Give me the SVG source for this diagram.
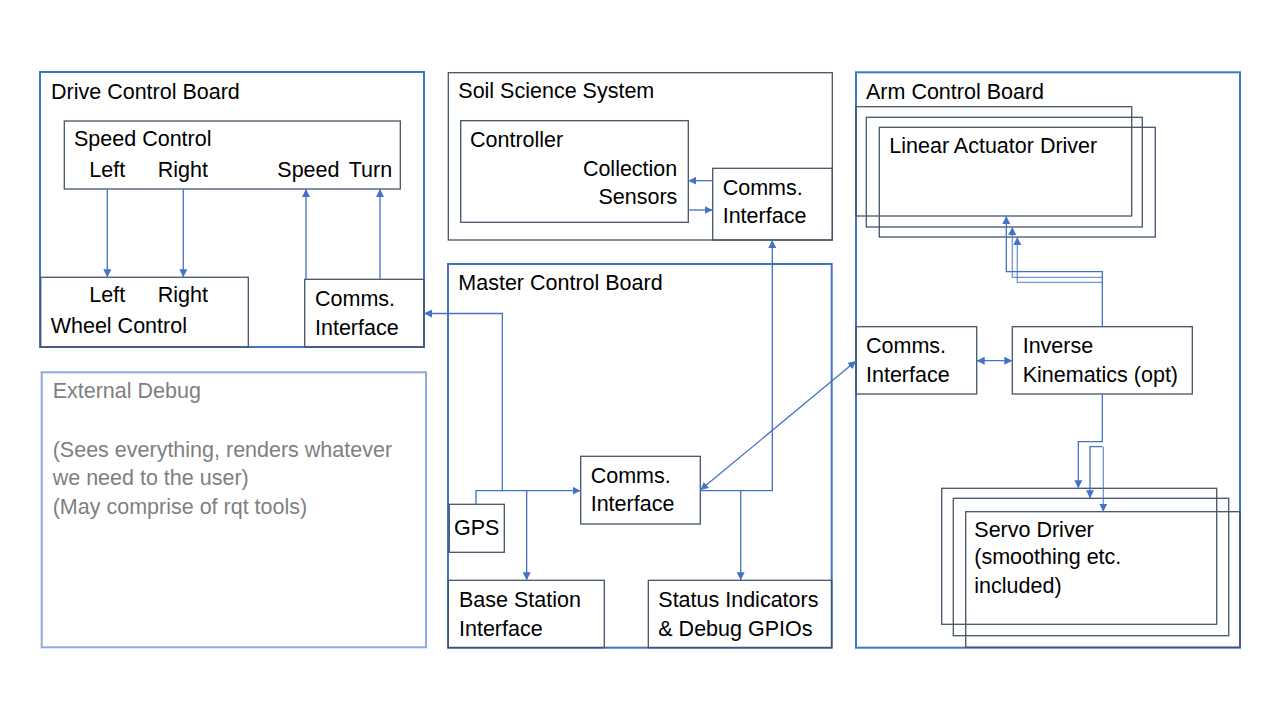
<svg xmlns="http://www.w3.org/2000/svg" width="1280" height="720" viewBox="0 0 1280 720">
<defs>
<style>
text{font-family:"Liberation Sans",Arial,sans-serif;font-size:21.5px;fill:#000}
.board{fill:none;stroke:#4472C4;stroke-width:2}
.box{fill:none;stroke:#44546A;stroke-width:1.3}
.dbg{fill:none;stroke:#8FAADC;stroke-width:2}
.gray{fill:#7F7F7F}
.c{fill:none;stroke:#4472C4;stroke-width:1.3}
.c2{fill:none;stroke:#4472C4;stroke-width:1.3;stroke-opacity:0.75}
.e{text-anchor:end}
</style>
<marker id="a" markerUnits="userSpaceOnUse" markerWidth="9" markerHeight="8" refX="8" refY="4" orient="auto-start-reverse"><path d="M0,0 L8,4 L0,8 z" fill="#4472C4"/></marker>
</defs>
<rect width="1280" height="720" fill="#fff"/>

<g id="drive-board">
<rect class="board" x="40" y="72" width="384" height="275"/>
<text x="51" y="99">Drive Control Board</text>
</g>
<g id="speed-control">
<rect class="box" x="64.3" y="121" width="336" height="68"/>
<text x="74" y="146">Speed Control</text>
<text x="89.3" y="177">Left</text>
<text x="157.7" y="177">Right</text>
<text x="277.3" y="177">Speed</text>
<text x="348.7" y="177">Turn</text>
</g>
<g id="wheel-control">
<rect class="box" x="40.7" y="277.3" width="207.6" height="69.7"/>
<text x="89.3" y="302">Left</text>
<text x="157.7" y="302">Right</text>
<text x="50.7" y="333">Wheel Control</text>
</g>
<g id="drive-comms">
<rect class="box" x="304.7" y="279.3" width="119.3" height="67.7"/>
<text x="315" y="305.5">Comms.</text>
<text x="315" y="334.5">Interface</text>
</g>

<g id="external-debug">
<rect class="dbg" x="41.7" y="372.3" width="384.3" height="275"/>
<text class="gray" x="52.7" y="398.3">External Debug</text>
<text class="gray" x="52.7" y="456.7">(Sees everything, renders whatever</text>
<text class="gray" x="52.7" y="485">we need to the user)</text>
<text class="gray" x="52.7" y="514">(May comprise of rqt tools)</text>
</g>

<g id="soil-science">
<rect class="box" x="448.3" y="72.7" width="384" height="167.3"/>
<text x="458.3" y="98.3">Soil Science System</text>
</g>
<g id="soil-controller">
<rect class="box" x="460.7" y="120.7" width="227.6" height="101.6"/>
<text x="470" y="146.7">Controller</text>
<text class="e" x="677.3" y="175.7">Collection</text>
<text class="e" x="677.3" y="204">Sensors</text>
</g>
<g id="soil-comms">
<rect class="box" x="712.7" y="168.3" width="119.6" height="71.7"/>
<text x="722.7" y="195">Comms.</text>
<text x="722.7" y="223.3">Interface</text>
</g>

<g id="master-board">
<rect class="board" x="448" y="264" width="383.7" height="383.7"/>
<text x="458.3" y="290">Master Control Board</text>
</g>
<g id="master-comms">
<rect class="box" x="580.7" y="456.3" width="119.6" height="67.7"/>
<text x="590.7" y="482.7">Comms.</text>
<text x="590.7" y="511">Interface</text>
</g>
<g id="gps">
<rect class="box" x="449.3" y="504.3" width="55" height="48"/>
<text x="454" y="535">GPS</text>
</g>
<g id="base-station">
<rect class="box" x="448.3" y="580.3" width="156" height="67.4"/>
<text x="459" y="606.5">Base Station</text>
<text x="459" y="635.5">Interface</text>
</g>
<g id="status-indicators">
<rect class="box" x="648.3" y="580.3" width="183.4" height="67.4"/>
<text x="658.3" y="606.5">Status Indicators</text>
<text x="658.3" y="635.5">&amp; Debug GPIOs</text>
</g>

<g id="arm-board">
<rect class="board" x="856" y="72.3" width="384" height="575.4"/>
<text x="866" y="99">Arm Control Board</text>
</g>
<g id="linear-actuator">
<rect class="box" x="856" y="106.7" width="275.7" height="109.3"/>
<rect class="box" x="866.3" y="117.3" width="276" height="109.7"/>
<rect class="box" x="879.3" y="127.3" width="276" height="109.7"/>
<text x="889.3" y="153.3">Linear Actuator Driver</text>
</g>
<g id="arm-comms">
<rect class="box" x="856" y="326.7" width="120.7" height="67.3"/>
<text x="866" y="353.3">Comms.</text>
<text x="866" y="381.7">Interface</text>
</g>
<g id="inverse-kinematics">
<rect class="box" x="1012.3" y="326.7" width="180" height="67.3"/>
<text x="1022.7" y="353.3">Inverse</text>
<text x="1022.7" y="381.7">Kinematics (opt)</text>
</g>
<g id="servo-driver">
<rect class="box" x="941.7" y="488.3" width="275" height="136"/>
<rect class="box" x="953.3" y="498.3" width="275.4" height="137.4"/>
<rect class="box" x="965.7" y="511.7" width="274.3" height="135.6"/>
<text x="974.3" y="536.7">Servo Driver</text>
<text x="974.3" y="564.3">(smoothing etc.</text>
<text x="974.3" y="592.7">included)</text>
</g>

<g id="connectors">
<path class="c" d="M107.3,189 V277.3" marker-end="url(#a)"/>
<path class="c" d="M183.3,189 V277.3" marker-end="url(#a)"/>
<path class="c" d="M306,279.3 V189" marker-end="url(#a)"/>
<path class="c" d="M380,279.3 V189" marker-end="url(#a)"/>
<path class="c" d="M502.3,490.7 V313.5 H424" marker-end="url(#a)"/>
<path class="c" d="M476,504.3 V490.7 H580.7" marker-end="url(#a)"/>
<path class="c" d="M526.7,490.7 V580.3" marker-end="url(#a)"/>
<path class="c" d="M700.3,490.7 H772.3 V240" marker-end="url(#a)"/>
<path class="c" d="M740.7,490.7 V580.3" marker-end="url(#a)"/>
<path class="c" d="M700.3,490 L856,361" marker-start="url(#a)" marker-end="url(#a)"/>
<path class="c" d="M712.7,180.7 H688.3" marker-end="url(#a)"/>
<path class="c" d="M688.3,210 H712.7" marker-end="url(#a)"/>
<path class="c" d="M976.7,360.7 H1012.3" marker-start="url(#a)" marker-end="url(#a)"/>
<path class="c" d="M1102.3,326.7 V271.7 H1006.3 V216" marker-end="url(#a)"/>
<path class="c2" d="M1102.3,277.3 H1012.3 V227" marker-end="url(#a)"/>
<path class="c2" d="M1102.3,282.3 H1017.3 V237" marker-end="url(#a)"/>
<path class="c" d="M1102.3,394 V441.7 H1078.3 V488.3" marker-end="url(#a)"/>
<path class="c" d="M1102.3,446.7 H1090 V498.3" marker-end="url(#a)"/>
<path class="c2" d="M1103.3,446.7 V511.7" marker-end="url(#a)"/>
</g>
</svg>
